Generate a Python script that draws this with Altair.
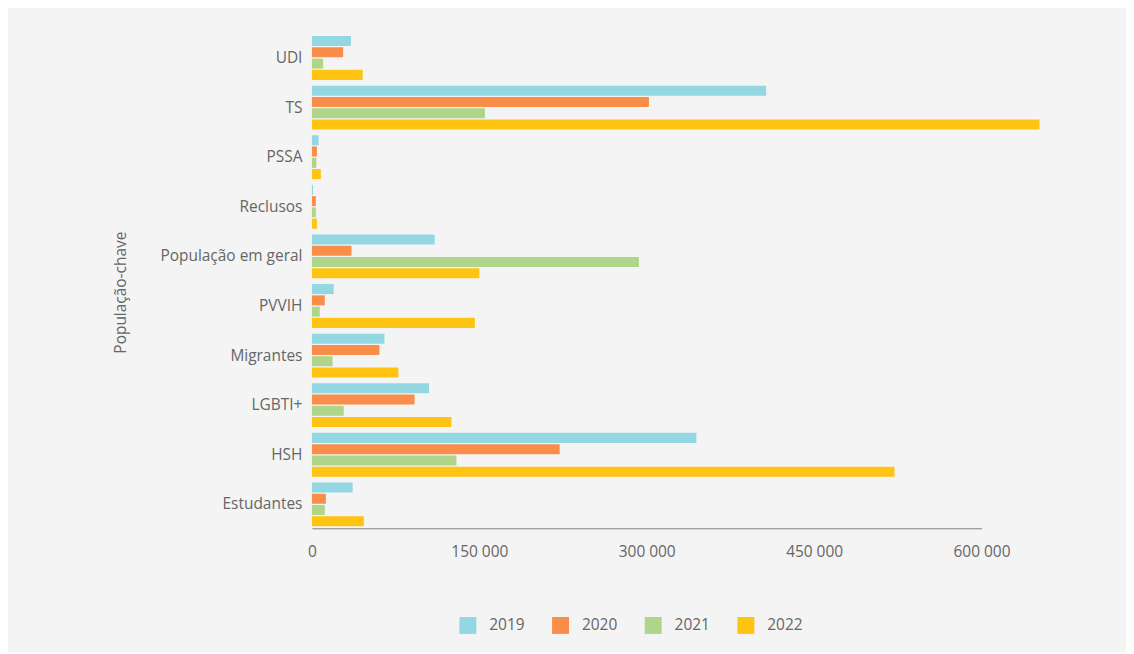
import altair as alt
import pandas as pd

categories = ["UDI", "TS", "PSSA", "Reclusos", "População em geral",
              "PVVIH", "Migrantes", "LGBTI+", "HSH", "Estudantes"]
years = ["2019", "2020", "2021", "2022"]
v2019 = [35000, 407000, 6000, 1000, 110000, 19500, 65000, 105000, 344500, 36500]
v2020 = [28000, 302000, 4500, 3500, 35500, 11500, 60500, 92000, 222000, 12500]
v2021 = [10000, 155000, 4000, 3500, 293000, 7000, 18500, 28500, 129500, 11500]
v2022 = [45500, 652000, 8000, 4500, 150000, 146000, 77500, 125000, 522000, 46500]
colors = ["#93d7e3", "#f98e4a", "#aed58a", "#ffc312"]

rows = []
for series, y in zip([v2019, v2020, v2021, v2022], years):
    for c, v in zip(categories, series):
        rows.append({"Pop": c, "Ano": y, "Valor": v})
df = pd.DataFrame(rows)

font = "Open Sans"
txt = "#666666"
fs = 15.5

chart = alt.Chart(df).mark_bar().encode(
    x=alt.X("Valor:Q",
            scale=alt.Scale(domain=[0, 600000], nice=False, zero=True),
            axis=alt.Axis(values=[0, 150000, 300000, 450000, 600000],
                          labelExpr="replace(format(datum.value, ','), ',', ' ')",
                          title=None, ticks=False, grid=False, labelFlush=False,
                          domainColor="#808080", domainWidth=1,
                          labelFont=font, labelFontSize=fs, labelColor=txt,
                          labelPadding=16)),
    y=alt.Y("Pop:N", sort=categories,
            scale=alt.Scale(paddingInner=0.116, paddingOuter=0.04),
            axis=alt.Axis(title="População-chave", ticks=False, domain=False,
                          grid=False, labelFont=font, labelFontSize=fs,
                          labelColor=txt, labelPadding=10, labelLimit=300,
                          titleFont=font, titleFontSize=fs, titleColor=txt,
                          titleFontWeight="normal", titleX=-192, titleY=259,
                          titleAlign="center", titleBaseline="middle")),
    yOffset=alt.YOffset("Ano:N", sort=years,
                        scale=alt.Scale(paddingInner=0.11, paddingOuter=0)),
    color=alt.Color("Ano:N", sort=years,
                    scale=alt.Scale(domain=years, range=colors),
                    legend=alt.Legend(title=None, orient="none", direction="horizontal",
                                      legendX=148, legendY=585,
                                      symbolType="square", symbolSize=289,
                                      symbolStrokeWidth=0, symbolOpacity=1,
                                      labelFont=font, labelFontSize=fs,
                                      labelColor=txt, labelOffset=13,
                                      columnPadding=27)),
).properties(
    width=672, height=496,
    autosize=alt.AutoSizeParams(type="none"),
    padding={"left": 305, "top": 25, "right": 145, "bottom": 123},
    background="#f4f4f4",
).configure_view(stroke=None)

chart.save("out.html", embed_options={"renderer": "svg", "actions": False})
